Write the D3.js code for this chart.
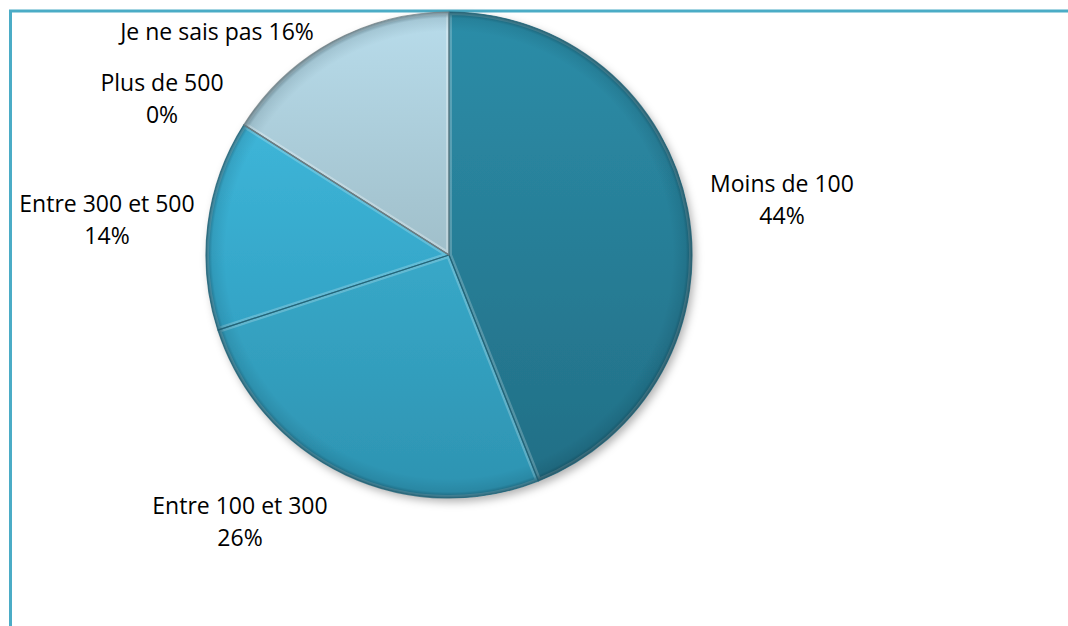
<!DOCTYPE html>
<html><head><meta charset="utf-8">
<script src="https://cdn.jsdelivr.net/npm/d3@7"></script>
<style>html,body{margin:0;padding:0;background:#fff;}svg{display:block;}</style>
</head><body>
<svg id="chart" width="1068" height="626"></svg>
<script>
// ---- data ----
const categories = ["Moins de 100", "Entre 100 et 300", "Entre 300 et 500", "Plus de 500", "Je ne sais pas"];
const values = [44, 26, 14, 0, 16];
const pctLabels = ["44%", "26%", "14%", "0%", "16%"];

// ---- layout / style (not data) ----
const W = 1068, H = 626;
const cx = 449, cy = 255, R = 243;
const topColors = ["#2c8da8", "#38a8c8", "#3db5d8", "#3db5d8", "#b8dceb"];
const botColors = ["#226f86", "#2d93b1", "#33a3c5", "#33a3c5", "#a0bfca"];
// label anchors: [centerX, firstBaseline, twoLines]
const labelLayout = [
  [782, 192, true],
  [240, 514, true],
  [107, 212, true],
  [162, 91, true],
  [217, 40, false]
];
const lineGap = 32;

const svg = d3.select("#chart");
const defs = svg.append("defs");

// frame
svg.append("rect").attr("x", 10.5).attr("y", 11).attr("width", 1200).attr("height", 800)
  .attr("fill", "none").attr("stroke", "#4bacc6").attr("stroke-width", 3);

// gradients
categories.forEach((c, i) => {
  const g = defs.append("linearGradient").attr("id", "g" + i)
    .attr("x1", 0).attr("y1", 0).attr("x2", 0).attr("y2", 1);
  g.append("stop").attr("offset", "0%").attr("stop-color", topColors[i]);
  g.append("stop").attr("offset", "100%").attr("stop-color", botColors[i]);
});
const rim = defs.append("radialGradient").attr("id", "rim")
  .attr("cx", "50%").attr("cy", "50%").attr("r", "50%");
rim.append("stop").attr("offset", "92%").attr("stop-color", "#001a24").attr("stop-opacity", 0);
rim.append("stop").attr("offset", "97.5%").attr("stop-color", "#001a24").attr("stop-opacity", 0.1);
rim.append("stop").attr("offset", "100%").attr("stop-color", "#001a24").attr("stop-opacity", 0.45);

const f = defs.append("filter").attr("id", "shadow").attr("x", "-10%").attr("y", "-10%")
  .attr("width", "130%").attr("height", "130%");
f.append("feDropShadow").attr("dx", 3).attr("dy", 4).attr("stdDeviation", 4)
  .attr("flood-color", "#000").attr("flood-opacity", 0.3);

const pie = d3.pie().sort(null).value(d => d).startAngle(0).endAngle(2 * Math.PI);
const arcs = pie(values);
const arc = d3.arc().innerRadius(0).outerRadius(R);

const gPie = svg.append("g").attr("transform", `translate(${cx},${cy})`);
const base = gPie.append("g").attr("filter", "url(#shadow)");
base.selectAll("path.slice").data(arcs).enter().append("path")
  .attr("class", "slice")
  .attr("d", arc)
  .attr("fill", (d, i) => `url(#g${i})`);

// inner bevel highlight per slice
arcs.forEach((d, i) => {
  if (d.endAngle - d.startAngle <= 0) return;
  defs.append("clipPath").attr("id", "clip" + i).append("path").attr("d", arc(d));
  gPie.append("path").attr("d", arc(d)).attr("fill", "none")
    .attr("clip-path", `url(#clip${i})`)
    .attr("stroke", "#ffffff").attr("stroke-opacity", i === 4 ? 0.3 : 0.22)
    .attr("stroke-width", 6).attr("stroke-linejoin", "round");
});
// rim shading
gPie.append("circle").attr("r", R).attr("fill", "url(#rim)");
// slice separators
gPie.selectAll("path.sep").data(arcs).enter().append("path")
  .attr("class", "sep")
  .attr("d", arc)
  .attr("fill", "none")
  .attr("stroke", (d, i) => i === 4 || i === 3 ? "#6f7c80" : "#1c5e72")
  .attr("stroke-opacity", 0.75)
  .attr("stroke-width", 1.2)
  .attr("stroke-linejoin", "round");

// labels
const lab = svg.append("g").attr("font-family", "'Open Sans', 'Liberation Sans', sans-serif")
  .attr("font-size", 23).attr("fill", "#000").attr("text-anchor", "middle");
categories.forEach((c, i) => {
  const [x, y, two] = labelLayout[i];
  if (two) {
    lab.append("text").attr("x", x).attr("y", y).text(c);
    lab.append("text").attr("x", x).attr("y", y + lineGap).text(pctLabels[i]);
  } else {
    lab.append("text").attr("x", x).attr("y", y).text(c + " " + pctLabels[i]);
  }
});
</script>
</body></html>
